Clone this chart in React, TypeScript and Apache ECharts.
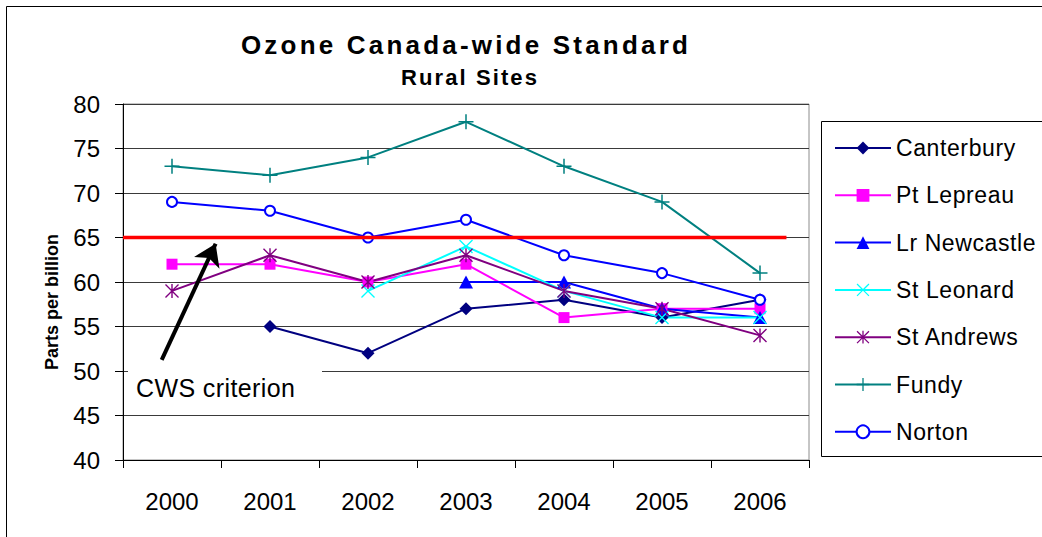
import React, { useEffect, useRef } from 'react';
import * as echarts from 'echarts';

// ---------- data ----------
const TITLE = 'Ozone Canada-wide Standard';
const SUBTITLE = 'Rural Sites';
const Y_NAME = 'Parts per billion';
const CWS_LABEL = 'CWS criterion';

const YEARS = ['2000', '2001', '2002', '2003', '2004', '2005', '2006'];
const Y_MIN = 40;
const Y_MAX = 80;
const Y_STEP = 5;

const CANTERBURY = [null, 55, 52, 57, 58, 56, 58];
const PT_LEPREAU = [62, 62, 60, 62, 56, 57, 57];
const LR_NEWCASTLE = [null, null, null, 60, 60, 57, 56];
const ST_LEONARD = [null, null, 59, 64, 59, 56, 56];
const ST_ANDREWS = [59, 63, 60, 63, 59, 57, 54];
const FUNDY = [73, 72, 74, 78, 73, 69, 61];
const NORTON = [69, 68, 65, 67, 63, 61, 58];

const CWS_VALUE = 65;
// extent of the criterion line, in category-band units (-0.5 = left edge of plot)
const CWS_FROM = -0.5;
const CWS_TO = 6.27;
// annotation arrow (band units, ppb)
const ARROW_FROM = [-0.105, 51.25];
const ARROW_TO = [0.445, 64.3];

// ---------- styling ----------
const SANS = "'Liberation Sans', Arial, Helvetica, sans-serif";
const PLUS = 'path://M9,0H11V9H20V11H11V20H9V11H0V9H9Z';
const CROSS = 'path://M1.4,0L10,8.6L18.6,0L20,1.4L11.4,10L20,18.6L18.6,20L10,11.4L1.4,20L0,18.6L8.6,10L0,1.4Z';
const STAR = 'path://M1.4,0L10,8.6L18.6,0L20,1.4L11.4,10L20,18.6L18.6,20L10,11.4L1.4,20L0,18.6L8.6,10L0,1.4Z M9,0H11V20H9Z';

const SERIES = [
  { name: 'Canterbury', data: CANTERBURY, color: '#000080', symbol: 'diamond', size: 13 },
  { name: 'Pt Lepreau', data: PT_LEPREAU, color: '#FF00FF', symbol: 'rect', size: 11 },
  { name: 'Lr Newcastle', data: LR_NEWCASTLE, color: '#0000FF', symbol: 'triangle', size: [14, 13] },
  { name: 'St Leonard', data: ST_LEONARD, color: '#00FFFF', symbol: CROSS, size: 14 },
  { name: 'St Andrews', data: ST_ANDREWS, color: '#800080', symbol: STAR, size: 14 },
  { name: 'Fundy', data: FUNDY, color: '#008080', symbol: PLUS, size: 15 },
  { name: 'Norton', data: NORTON, color: '#0000FF', symbol: 'emptyCircle', size: 10 },
];

const SPACING: Record<string, number> = {
  [TITLE]: 3.2,
  [SUBTITLE]: 2.1,
  [CWS_LABEL]: 0.4,
};
SERIES.forEach((s) => (SPACING[s.name] = 0.6));

export default function App() {
  const ref = useRef<HTMLDivElement>(null);

  useEffect(() => {
    if (!ref.current) return;
    const chart = echarts.init(ref.current, undefined, { renderer: 'svg' });

    const lineSeries = SERIES.map((s) => ({
      name: s.name,
      type: 'line',
      data: s.data,
      symbol: s.symbol,
      symbolSize: s.size,
      showSymbol: true,
      connectNulls: false,
      color: s.color,
      itemStyle: { color: s.color, borderWidth: s.symbol === 'emptyCircle' ? 1.5 : 0, borderColor: s.color },
      lineStyle: { color: s.color, width: 2 },
      emphasis: { disabled: true },
      silent: true,
      z: 3,
    }));

    const option: any = {
      animation: false,
      backgroundColor: '#ffffff',
      title: [
        {
          text: TITLE,
          left: 466,
          top: 30,
          textAlign: 'center',
          padding: 0,
          textStyle: { fontFamily: SANS, fontWeight: 'bold', fontSize: 26, lineHeight: 30, color: '#000' },
        },
        {
          text: SUBTITLE,
          left: 470,
          top: 65,
          textAlign: 'center',
          padding: 0,
          textStyle: { fontFamily: SANS, fontWeight: 'bold', fontSize: 22, lineHeight: 24, color: '#000' },
        },
      ],
      legend: {
        orient: 'vertical',
        left: 834,
        top: 136,
        padding: 0,
        itemWidth: 56,
        itemHeight: 16,
        itemGap: 23.3,
        selectedMode: false,
        data: SERIES.map((s) => s.name),
        textStyle: { fontFamily: SANS, fontSize: 23, lineHeight: 24, color: '#000' },
      },
      grid: {
        left: 123,
        right: 233,
        top: 104,
        bottom: 77,
        show: true,
        borderColor: '#8c8c8c',
        borderWidth: 1,
        backgroundColor: '#ffffff',
      },
      xAxis: [
        {
          type: 'category',
          data: YEARS,
          boundaryGap: true,
          axisLine: { show: true, onZero: false, lineStyle: { color: '#000', width: 1 } },
          axisTick: { show: true, length: 8, lineStyle: { color: '#000', width: 1 } },
          axisLabel: { fontFamily: SANS, fontSize: 24, lineHeight: 26, color: '#000', margin: 28 },
          splitLine: { show: false },
        },
        { type: 'value', min: -0.5, max: 6.5, show: false },
      ],
      yAxis: {
        type: 'value',
        min: Y_MIN,
        max: Y_MAX,
        interval: Y_STEP,
        axisLine: { show: true, onZero: false, lineStyle: { color: '#000', width: 1 } },
        axisTick: { show: true, length: 8, lineStyle: { color: '#000', width: 1 } },
        axisLabel: { fontFamily: SANS, fontSize: 24, lineHeight: 26, color: '#000', margin: 23, padding: [6, 0, 0, 0] },
        splitLine: { show: true, lineStyle: { color: '#3a3a3a', width: 1 } },
      },
      series: [
        ...lineSeries,
        {
          name: 'CWS',
          type: 'line',
          xAxisIndex: 1,
          data: [
            [CWS_FROM, CWS_VALUE],
            [CWS_TO, CWS_VALUE],
          ],
          symbol: 'none',
          lineStyle: { color: '#FF0000', width: 3.5 },
          silent: true,
          z: 5,
          markLine: {
            silent: true,
            symbol: ['none', 'arrow'],
            symbolSize: 21,
            label: { show: false },
            lineStyle: { color: '#000', width: 4, type: 'solid' },
            emphasis: { disabled: true },
            data: [[{ coord: ARROW_FROM }, { coord: ARROW_TO }]],
          },
        },
      ],
      graphic: [
        {
          type: 'rect',
          silent: true,
          z: -10,
          shape: { x: 6.5, y: 6.5, width: 1100, height: 600 },
          style: { fill: 'none', stroke: '#000', lineWidth: 1 },
        },
        {
          type: 'rect',
          silent: true,
          z: 0,
          shape: { x: 821.5, y: 121.5, width: 300, height: 335 },
          style: { fill: '#fff', stroke: '#000', lineWidth: 1 },
        },
        {
          type: 'rect',
          silent: true,
          z: 10,
          shape: { x: 128, y: 363, width: 194, height: 42 },
          style: { fill: '#fff' },
        },
        {
          type: 'text',
          silent: true,
          z: 11,
          x: 136,
          y: 388,
          style: {
            text: CWS_LABEL,
            fontFamily: SANS,
            fontSize: 25,
            fill: '#000',
            align: 'left',
            verticalAlign: 'middle',
          },
        },
        {
          type: 'text',
          silent: true,
          z: 11,
          x: 52,
          y: 302,
          rotation: Math.PI / 2,
          style: {
            text: Y_NAME,
            fontFamily: SANS,
            fontWeight: 'bold',
            fontSize: 18,
            fill: '#000',
            align: 'center',
            verticalAlign: 'middle',
          },
        },
      ],
    };

    chart.setOption(option);

    // widen the tracking of texts the way the original rendering does
    ref.current.querySelectorAll('text').forEach((node) => {
      const sp = SPACING[(node.textContent || '').trim()];
      if (sp !== undefined) node.setAttribute('letter-spacing', String(sp));
    });

    return () => chart.dispose();
  }, []);

  return (
    <div
      ref={ref}
      style={{ position: 'absolute', left: 0, top: 0, width: 1042, height: 537, background: '#fff' }}
    />
  );
}
